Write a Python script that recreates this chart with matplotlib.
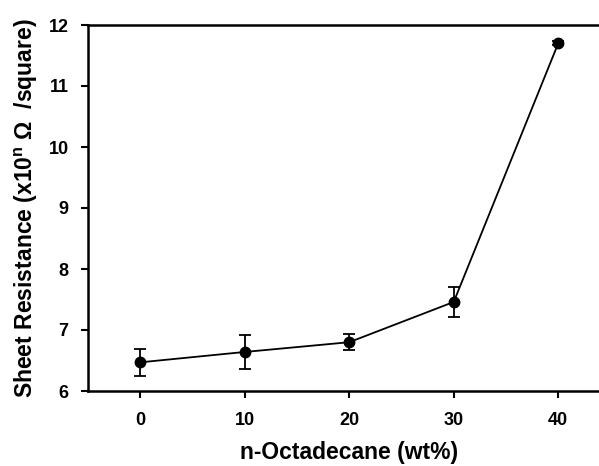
import matplotlib
matplotlib.use("Agg")
import matplotlib.pyplot as plt

# data
octadecane_wt = [0, 10, 20, 30, 40]
sheet_resistance = [6.47, 6.64, 6.80, 7.46, 11.70]
resistance_err = [0.22, 0.28, 0.13, 0.25, 0.03]
x_ticks = [0, 10, 20, 30, 40]
y_ticks = [6, 7, 8, 9, 10, 11, 12]

plt.rcParams['font.family'] = ['Liberation Sans', 'DejaVu Sans']
plt.rcParams['font.weight'] = 'bold'
plt.rcParams['mathtext.fontset'] = 'custom'
plt.rcParams['mathtext.bf'] = 'Liberation Sans:bold'
plt.rcParams['mathtext.rm'] = 'Liberation Sans:bold'
plt.rcParams['mathtext.default'] = 'bf'

fig = plt.figure(figsize=(5.99, 4.66), dpi=100)
# the right edge of the axes sits just past the picture, as in the source
ax = fig.add_axes([88 / 599, 75 / 466, 522.5 / 599, 366 / 466])

ax.errorbar(octadecane_wt, sheet_resistance, yerr=resistance_err,
            color='black', linewidth=1.3, marker='o', markersize=7.5,
            capsize=4.5, capthick=1.3, elinewidth=1.3)

ax.set_xlim(-5, 45)
ax.set_ylim(6, 12)
ax.set_xticks(x_ticks)
ax.set_yticks(y_ticks)
ax.tick_params(direction='out', length=5, width=1.5, labelsize=13, pad=10)
ax.tick_params(axis='y', pad=9)
for lab in ax.get_xticklabels() + ax.get_yticklabels():
    lab.set_fontweight('bold')
for sp in ax.spines.values():
    sp.set_linewidth(1.8)

ax.set_xlabel('n-Octadecane (wt%)', fontsize=16.5, fontweight='bold', labelpad=9)
ax.set_ylabel(r'Sheet Resistance (x10$^{n}$ Ω  /square)', fontsize=16.5,
              fontweight='bold', labelpad=6)

fig.savefig('out.png', dpi=100)
